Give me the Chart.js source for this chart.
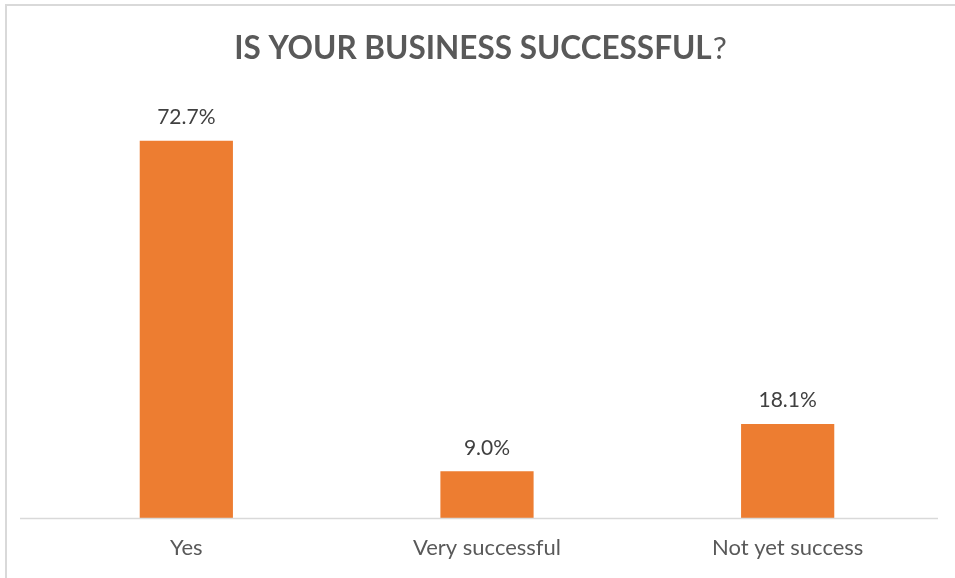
<!DOCTYPE html>
<html>
<head>
<meta charset="utf-8">
<script src="https://cdn.jsdelivr.net/npm/chart.js@4/dist/chart.umd.min.js"></script>
<style>
  html, body { margin: 0; padding: 0; background: #fff; }
  #wrap { position: relative; width: 955px; height: 578px; overflow: hidden; }
  #frame { position: absolute; left: 5px; top: 4px; right: -2px; bottom: -2px;
           border-left: 2px solid #d9d9d9; border-top: 2px solid #d9d9d9; }
  canvas { position: absolute; left: 0; top: 0; }
</style>
</head>
<body>
<div id="wrap">
  <div id="frame"></div>
  <canvas id="successChart" width="955" height="578"></canvas>
</div>
<script>
const categories = ["Yes", "Very successful", "Not yet success"];
const shares = [72.7, 9.0, 18.1];
const titleBold = "IS YOUR BUSINESS SUCCESSFUL";
const titleTail = "?";

const FONT = "Lato, 'Open Sans', sans-serif";

// title with a bold question and a regular question mark
const titlePlugin = {
  id: "mixedTitle",
  afterDraw(chart) {
    const ctx = chart.ctx;
    ctx.save();
    ctx.textBaseline = "alphabetic";
    ctx.fillStyle = "#595959";
    ctx.font = "bold 31.5px " + FONT;
    const w1 = ctx.measureText(titleBold).width;
    ctx.font = "31.5px " + FONT;
    const w2 = ctx.measureText(titleTail).width;
    let x = 480 - (w1 + w2) / 2;
    ctx.font = "bold 31.5px " + FONT;
    ctx.fillText(titleBold, x, 59);
    ctx.font = "31.5px " + FONT;
    ctx.fillText(titleTail, x + w1 + 1, 59);
    ctx.restore();
  }
};

// baseline and value labels above each bar
const labelPlugin = {
  id: "barLabels",
  afterDatasetsDraw(chart) {
    const ctx = chart.ctx;
    const area = chart.chartArea;
    ctx.save();
    ctx.strokeStyle = "#d9d9d9";
    ctx.lineWidth = 1.5;
    ctx.beginPath();
    ctx.moveTo(20, area.bottom + 0.5);
    ctx.lineTo(938, area.bottom + 0.5);
    ctx.stroke();

    ctx.fillStyle = "#404040";
    ctx.font = "21px " + FONT;
    ctx.textAlign = "center";
    ctx.textBaseline = "bottom";
    chart.getDatasetMeta(0).data.forEach((bar, i) => {
      ctx.fillText(shares[i].toFixed(1) + "%", bar.x, bar.y - 13);
    });
    ctx.restore();
  }
};

new Chart(document.getElementById("successChart"), {
  type: "bar",
  data: {
    labels: categories,
    datasets: [{
      data: shares,
      backgroundColor: "#ED7D31",
      borderWidth: 0,
      categoryPercentage: 1,
      barPercentage: 0.31
    }]
  },
  options: {
    responsive: false,
    animation: false,
    layout: { padding: { left: 36, right: 17, top: 103, bottom: 0 } },
    plugins: {
      legend: { display: false },
      title: { display: false },
      tooltip: { enabled: false }
    },
    scales: {
      x: {
        grid: { display: false, drawTicks: false },
        border: { display: false },
        ticks: {
          color: "#595959",
          font: { family: FONT, size: 22 },
          padding: 17
        },
        afterFit(scale) { scale.height = 60; }
      },
      y: {
        display: false,
        min: 0,
        max: 80
      }
    }
  },
  plugins: [titlePlugin, labelPlugin]
});
</script>
</body>
</html>
